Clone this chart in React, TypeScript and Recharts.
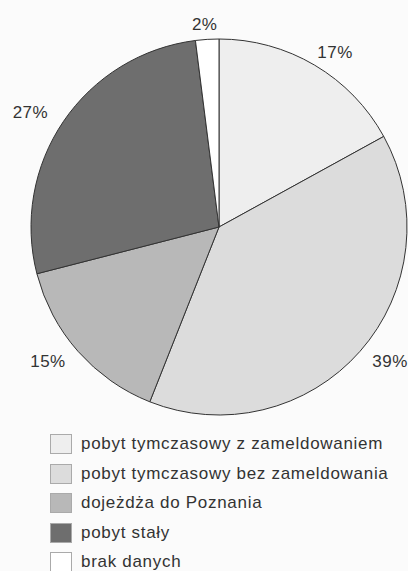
import { PieChart, Pie, Cell, Legend } from 'recharts';

const categories = [
  'pobyt tymczasowy z zameldowaniem',
  'pobyt tymczasowy bez zameldowania',
  'dojeżdża do Poznania',
  'pobyt stały',
  'brak danych',
];

const shares = [17, 39, 15, 27, 2];

const COLORS = ['#eeeeee', '#dcdcdc', '#b8b8b8', '#6e6e6e', '#ffffff'];

const pieData = categories.map((name, i) => ({ name, value: shares[i] }));

const RAD = Math.PI / 180;

// labels sit outside the rim, a bit further out sideways than vertically
const renderLabel = (props: any) => {
  const { cx, cy, midAngle, outerRadius, value } = props;
  const x = cx + (outerRadius + 40) * Math.cos(-midAngle * RAD);
  const y = cy + (outerRadius + 15) * Math.sin(-midAngle * RAD);
  return (
    <text
      x={x}
      y={y}
      textAnchor="middle"
      dominantBaseline="central"
      fill="#333"
      fontSize={17}
      letterSpacing={0.5}
    >
      {`${value}%`}
    </text>
  );
};

const renderLegend = () => (
  <div style={{ display: 'flex', flexDirection: 'column', gap: 7.5 }}>
    {pieData.map((entry, index) => (
      <div key={index} style={{ display: 'flex', alignItems: 'center', height: 22 }}>
        <div
          style={{
            width: 22,
            height: 20,
            boxSizing: 'border-box',
            border: '1px solid #aaa',
            backgroundColor: COLORS[index],
            marginRight: 9,
          }}
        />
        <span
          style={{ fontSize: 17, lineHeight: '20px', letterSpacing: 0.7, color: '#333' }}
        >
          {entry.name}
        </span>
      </div>
    ))}
  </div>
);

const App = () => {
  return (
    <div
      style={{
        position: 'absolute',
        left: 0,
        top: 0,
        width: 408,
        height: 571,
        background: '#fbfbfb',
        fontFamily: '"Liberation Sans", Arial, sans-serif',
      }}
    >
      <PieChart
        width={408}
        height={571}
        margin={{ top: 0, right: 0, bottom: 0, left: 0 }}
      >
        <Pie
          data={pieData}
          dataKey="value"
          nameKey="name"
          cx={219}
          cy={227}
          outerRadius={188}
          startAngle={90}
          endAngle={-270}
          stroke="#333"
          strokeWidth={1}
          label={renderLabel}
          labelLine={false}
          isAnimationActive={false}
        >
          {pieData.map((entry, index) => (
            <Cell key={`cell-${index}`} fill={COLORS[index]} />
          ))}
        </Pie>
        <Legend
          content={renderLegend}
          wrapperStyle={{ position: 'absolute', left: 50, top: 433, width: 358 }}
        />
      </PieChart>
    </div>
  );
};

export default App;
